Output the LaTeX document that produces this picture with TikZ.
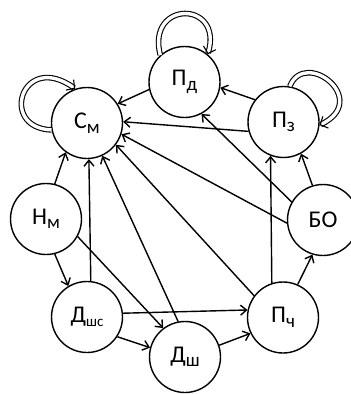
\documentclass[tikz,border=0pt]{standalone}
\usepackage{fontspec}
\setmainfont{Carlito}
\usetikzlibrary{arrows.meta}
\newcommand{\sbx}[1]{\raisebox{-4.5pt}{\fontsize{19}{19}\selectfont #1}}
\tikzset{
  st/.style={circle, draw, line width=1.4pt, minimum size=71pt, inner sep=0pt, fill=white,
             font=\fontsize{24}{24}\selectfont},
  ed/.style={line width=1.4pt, -{Straight Barb[length=6pt,width=10pt]}},
  lp/.style={line width=1.1pt, double, double distance=3.4pt, -{Straight Barb[length=6pt,width=13pt]}}
}
\begin{document}
\begin{tikzpicture}[x=1pt,y=-1pt]
\useasboundingbox (0,0) rectangle (351,394);
\node[st] (cm)  at (87,123)    {С\sbx{м}};
\node[st] (pd)  at (184.5,82)  {П\sbx{д}};
\node[st] (pz)  at (283.5,122) {П\sbx{з}};
\node[st] (nm)  at (46,219)    {Н\sbx{м}};
\node[st] (bo)  at (323,220)   {БО};
\node[st] (dsh) at (87,317)    {Д\sbx{\fontsize{15}{15}\selectfont шс}};
\node[st] (dw)  at (185,357)   {Д\sbx{ш}};
\node[st] (pch) at (283,317.5) {П\sbx{ч}};
% self loops
\draw[lp] (cm.191) .. controls (-2,128) and (22,50) .. (cm.109);
\draw[lp] (pd.132) .. controls (146,0) and (224,0) .. (pd.50);
\draw[lp] (pz.80) .. controls (305,48) and (372,100) .. (pz.-5);
% edges
\draw[ed] (pd.192) -- (cm.32);
\draw[ed] (pz.142) -- (pd.351);
\draw[ed] (pz.195) -- (cm.2);
\draw[ed] (bo.150) -- (pd.298);
\draw[ed] (bo.185) -- (cm.-18);
\draw[ed] (pch.143) -- (cm.-37);
\draw[ed] (dw.101) -- (cm.-65);
\draw[ed] (dsh.84) -- (cm.273);
\draw[ed] (nm.76) -- (cm.234);
\draw[ed] (nm.284) -- (dsh.121);
\draw[ed] (nm.331) -- (dw.127);
\draw[ed] (dsh.6) -- (pch.168);
\draw[ed] (dsh.-33) -- (dw.165);
\draw[ed] (dw.19) -- (pch.206);
\draw[ed] (pch.108) -- (pz.249);
\draw[ed] (pch.66) -- (bo.253);
\draw[ed] (bo.107) -- (pz.299);
\end{tikzpicture}
\end{document}
